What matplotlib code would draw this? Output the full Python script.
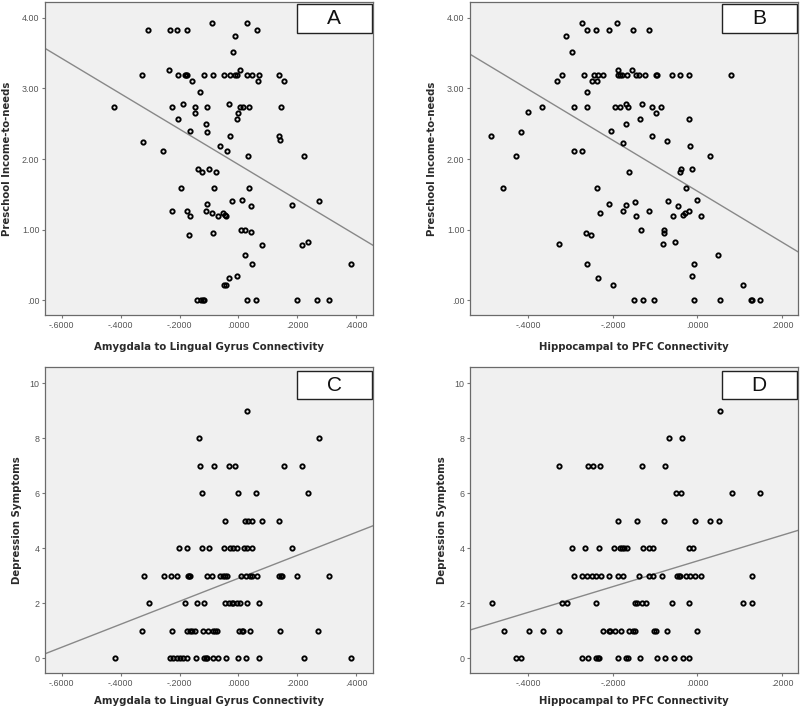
import numpy as np
import matplotlib
matplotlib.use('Agg')
import matplotlib.pyplot as plt
from matplotlib.patches import Rectangle
from matplotlib.ticker import FuncFormatter, MultipleLocator

# Panel A: amygdala-lingual connectivity vs preschool income-to-needs
a_x = [-0.306, -0.232, -0.210, -0.173, 0.062, -0.091, 0.028,
       -0.012, -0.018, -0.235, 0.005,
       -0.328, -0.204, -0.181, -0.178, -0.173, -0.117, -0.088, -0.049, -0.029, -0.012, -0.004, 0.028, 0.045, 0.069, 0.137,
       0.067, 0.155, -0.156, -0.130,
       -0.422, -0.227, -0.146, -0.106, 0.005, 0.014, 0.037, 0.144,
       -0.189, -0.031, -0.146, 0.000,
       -0.204, -0.006, -0.110, -0.106, -0.165,
       -0.029, 0.139, 0.141, -0.323, -0.063, -0.040, -0.255,
       0.031, 0.223, -0.136, -0.100, -0.125, -0.077,
       -0.195, -0.082, 0.037,
       0.273, -0.021, 0.013, 0.180, 0.041, -0.108,
       -0.224, -0.175, -0.110, -0.091, -0.051, -0.046, -0.042, -0.068, -0.166,
       -0.167, -0.085, 0.007, 0.022, 0.041,
       0.079, 0.214, 0.237,
       0.022, 0.047, 0.381,
       -0.031, -0.006, -0.049, -0.042,
       -0.141, -0.127, -0.121, -0.117, 0.028, 0.059, 0.199, 0.268, 0.308]
a_y = [3.83, 3.83, 3.83, 3.83, 3.83, 3.93, 3.93,
       3.74, 3.51, 3.26, 3.26,
       3.19, 3.19, 3.19, 3.19, 3.19, 3.19, 3.19, 3.19, 3.19, 3.19, 3.19, 3.19, 3.19, 3.19, 3.19,
       3.10, 3.10, 3.10, 2.95,
       2.73, 2.73, 2.73, 2.73, 2.73, 2.73, 2.73, 2.73,
       2.78, 2.78, 2.65, 2.65,
       2.56, 2.56, 2.50, 2.38, 2.39,
       2.32, 2.32, 2.27, 2.24, 2.18, 2.12, 2.12,
       2.04, 2.04, 1.86, 1.86, 1.82, 1.82,
       1.59, 1.59, 1.59,
       1.41, 1.40, 1.42, 1.35, 1.33, 1.36,
       1.27, 1.27, 1.27, 1.24, 1.24, 1.21, 1.19, 1.20, 1.19,
       0.92, 0.96, 0.99, 0.99, 0.97,
       0.79, 0.79, 0.83,
       0.64, 0.52, 0.52,
       0.32, 0.35, 0.22, 0.22,
       0.00, 0.00, 0.00, 0.00, 0.00, 0.00, 0.00, 0.00, 0.00]

# Panel B: hippocampal-PFC connectivity vs preschool income-to-needs
b_x = [-0.489, -0.459, -0.429, -0.418, -0.401, -0.367, -0.328, -0.331, -0.321, -0.311, -0.297, -0.291, -0.292, -0.273,
       -0.273, -0.262, -0.239, -0.209, -0.190, -0.152, -0.115,
       -0.268, -0.250, -0.244, -0.238, -0.234, -0.224,
       -0.262, -0.261,
       -0.264, -0.252, -0.262, -0.235, -0.199,
       -0.237, -0.230, -0.209, -0.205,
       -0.196, -0.183, -0.169, -0.165, -0.170, -0.177, -0.162,
       -0.189, -0.189, -0.183, -0.178, -0.167, -0.154, -0.146, -0.139, -0.123, -0.098, -0.095, -0.061, -0.042, -0.021, 0.080,
       -0.131, -0.136, -0.107, -0.086, -0.098, -0.107, -0.073,
       -0.021, -0.018, 0.029,
       -0.039, -0.013, -0.042, -0.028,
       -0.176, -0.168, -0.148, -0.146, -0.115, -0.134,
       -0.069, -0.047, -0.057, -0.035, -0.030, -0.020, -0.002, 0.009,
       -0.080, -0.079, -0.081, -0.052,
       0.049, -0.007, -0.012, 0.108,
       -0.150, -0.128, -0.102, -0.007, 0.054, 0.126, 0.130, 0.147]
b_y = [2.32, 1.59, 2.04, 2.38, 2.66, 2.73, 0.80, 3.10, 3.19, 3.74, 3.51, 2.73, 2.12, 2.12,
       3.93, 3.83, 3.83, 3.83, 3.93, 3.83, 3.83,
       3.19, 3.10, 3.19, 3.10, 3.19, 3.19,
       2.95, 2.73,
       0.96, 0.92, 0.52, 0.32, 0.22,
       1.59, 1.24, 1.36, 2.39,
       2.73, 2.73, 2.78, 2.73, 2.50, 2.23, 1.81,
       3.26, 3.19, 3.19, 3.19, 3.19, 3.26, 3.19, 3.19, 3.19, 3.19, 3.19, 3.19, 3.19, 3.19, 3.19,
       2.78, 2.56, 2.73, 2.73, 2.65, 2.32, 2.26,
       2.56, 2.18, 2.04,
       1.86, 1.86, 1.81, 1.59,
       1.27, 1.35, 1.39, 1.19, 1.27, 0.99,
       1.41, 1.33, 1.19, 1.21, 1.24, 1.27, 1.42, 1.19,
       0.99, 0.96, 0.80, 0.83,
       0.64, 0.52, 0.35, 0.22,
       0.00, 0.00, 0.00, 0.00, 0.00, 0.00, 0.00, 0.00]

# Panel C: amygdala-lingual connectivity vs depression symptoms
c_x = [0.030,
       -0.135, 0.273,
       -0.129, -0.083, -0.031, -0.011, 0.155, 0.216,
       -0.125, -0.003, 0.059, 0.237,
       -0.045, 0.023, 0.033, 0.047, 0.080, 0.138,
       -0.202, -0.173, -0.125, -0.100, -0.049, -0.029, -0.020, -0.004, 0.020, 0.029, 0.046, 0.181,
       -0.322, -0.252, -0.230, -0.210, -0.172, -0.168, -0.164, -0.108, -0.089, -0.063, -0.054, -0.046,
       -0.040, 0.010, 0.027, 0.039, 0.046, 0.064, 0.137, 0.143, 0.147, 0.200, 0.308,
       -0.303, -0.180, -0.140, -0.116, -0.045, -0.031, -0.023, -0.018, -0.006, 0.005, 0.030, 0.069,
       -0.327, -0.225, -0.173, -0.166, -0.158, -0.147, -0.119, -0.105, -0.085, -0.079, -0.074,
       0.003, 0.011, 0.016, 0.039, 0.141, 0.270,
       -0.420, -0.234, -0.223, -0.210, -0.198, -0.189, -0.173, -0.144, -0.117, -0.111,
       -0.106, -0.088, -0.068, -0.042, -0.001, 0.024, 0.069, 0.224, 0.382]
c_y = [9,
       8, 8,
       7, 7, 7, 7, 7, 7,
       6, 6, 6, 6,
       5, 5, 5, 5, 5, 5,
       4, 4, 4, 4, 4, 4, 4, 4, 4, 4, 4, 4,
       3, 3, 3, 3, 3, 3, 3, 3, 3, 3, 3, 3,
       3, 3, 3, 3, 3, 3, 3, 3, 3, 3, 3,
       2, 2, 2, 2, 2, 2, 2, 2, 2, 2, 2, 2,
       1, 1, 1, 1, 1, 1, 1, 1, 1, 1, 1,
       1, 1, 1, 1, 1, 1,
       0, 0, 0, 0, 0, 0, 0, 0, 0, 0,
       0, 0, 0, 0, 0, 0, 0, 0, 0]

# Panel D: hippocampal-PFC connectivity vs depression symptoms
d_x = [0.054,
       -0.067, -0.037,
       -0.327, -0.259, -0.248, -0.231, -0.130, -0.077,
       -0.051, -0.039, 0.082, 0.148,
       -0.187, -0.144, -0.080, -0.006, 0.030, 0.050,
       -0.297, -0.266, -0.233, -0.198, -0.183, -0.178, -0.174, -0.166, -0.128, -0.114, -0.106, -0.021, -0.011,
       -0.291, -0.272, -0.261, -0.250, -0.240, -0.229, -0.208, -0.188, -0.176, -0.138, -0.114,
       -0.105, -0.084, -0.048, -0.043, -0.040, -0.028, -0.017, -0.006, 0.009, 0.129,
       -0.487, -0.321, -0.309, -0.239, -0.148, -0.143, -0.131, -0.121, -0.061, -0.020, 0.108, 0.128,
       -0.457, -0.399, -0.366, -0.328, -0.223, -0.209, -0.206, -0.194,
       -0.181, -0.161, -0.152, -0.148, -0.102, -0.098, -0.072, -0.001,
       -0.429, -0.417, -0.272, -0.260, -0.240, -0.236, -0.233, -0.187,
       -0.170, -0.165, -0.135, -0.096, -0.077, -0.056, -0.034, -0.020]
d_y = [9,
       8, 8,
       7, 7, 7, 7, 7, 7,
       6, 6, 6, 6,
       5, 5, 5, 5, 5, 5,
       4, 4, 4, 4, 4, 4, 4, 4, 4, 4, 4, 4, 4,
       3, 3, 3, 3, 3, 3, 3, 3, 3, 3, 3,
       3, 3, 3, 3, 3, 3, 3, 3, 3, 3,
       2, 2, 2, 2, 2, 2, 2, 2, 2, 2, 2, 2,
       1, 1, 1, 1, 1, 1, 1, 1,
       1, 1, 1, 1, 1, 1, 1, 1,
       0, 0, 0, 0, 0, 0, 0, 0,
       0, 0, 0, 0, 0, 0, 0, 0]

amyg_label = 'Amygdala to Lingual Gyrus Connectivity'
hipp_label = 'Hippocampal to PFC Connectivity'
income_label = 'Preschool Income-to-needs'
dep_label = 'Depression Symptoms'

BG = '#f0f0f0'
TICK_COLOR = '#555555'
LABEL_COLOR = '#2a2a2a'


def strip_zero(fmt):
    def f(v, pos):
        if abs(v) < 1e-9:
            v = 0.0
        s = format(v, fmt)
        if s.startswith('0.'):
            s = s[1:]
        elif s.startswith('-0.'):
            s = '-' + s[2:]
        return s
    return FuncFormatter(f)


def panel(rect, x, y, xlim, xticks, ylim, yfmt, ystep, xlabel, ylabel, letter,
          ylab_x, xlab_y, box_y):
    ax = fig.add_axes(rect)
    ax.set_facecolor(BG)
    ax.plot(x, y, 'o', ms=3.1, mfc='none', mec='black', mew=1.35, zorder=3)

    # least squares fit line across the full x range
    slope, icpt = np.polyfit(x, y, 1)
    xs = np.array(xlim)
    ax.plot(xs, icpt + slope * xs, color='#888888', lw=1.0, zorder=2)

    ax.set_xlim(*xlim)
    ax.set_ylim(*ylim)
    ax.set_xticks(xticks)
    ax.xaxis.set_major_formatter(strip_zero('.4f'))
    ax.yaxis.set_major_locator(MultipleLocator(ystep))
    ax.yaxis.set_major_formatter(strip_zero(yfmt))
    ax.tick_params(labelsize=6.4, colors='#777777', labelcolor=TICK_COLOR,
                   length=2, width=0.8, pad=2, top=False, right=False)
    for lab in ax.get_xticklabels() + ax.get_yticklabels():
        lab.set_family('Liberation Sans')
    for s in ax.spines.values():
        s.set_color('#6a6a6a')
        s.set_linewidth(0.9)
    ax.set_xlabel(xlabel, fontsize=7.3, fontweight='bold', color=LABEL_COLOR)
    ax.set_ylabel(ylabel, fontsize=7.3, fontweight='bold', color=LABEL_COLOR)
    ax.yaxis.set_label_coords(ylab_x, 0.5)
    ax.xaxis.set_label_coords(0.5, xlab_y)

    # panel letter box in the upper right corner
    box = Rectangle((0.767, box_y), 0.229, 0.092, transform=ax.transAxes,
                    facecolor='white', edgecolor='#222222', lw=1.0, zorder=4)
    ax.add_patch(box)
    ax.text(0.8815, box_y + 0.046, letter, transform=ax.transAxes,
            ha='center', va='center', fontsize=15, family='Liberation Sans',
            color='#111111', zorder=5)
    return ax


fig = plt.figure(figsize=(8, 7.1), dpi=100)

amyg_lim = (-0.6565, 0.4565)
amyg_ticks = [-0.6, -0.4, -0.2, 0.0, 0.2, 0.4]
hipp_lim = (-0.538, 0.238)
hipp_ticks = [-0.4, -0.2, 0.0, 0.2]

panel([0.05625, 0.556, 0.41, 0.441], a_x, a_y, amyg_lim, amyg_ticks,
      (-0.21, 4.22), '.2f', 1.0, amyg_label, income_label, 'A', -0.10, -0.085, 0.903)
panel([0.5875, 0.556, 0.41, 0.441], b_x, b_y, hipp_lim, hipp_ticks,
      (-0.21, 4.22), '.2f', 1.0, hipp_label, income_label, 'B', -0.10, -0.085, 0.903)
panel([0.05625, 0.052, 0.41, 0.431], c_x, c_y, amyg_lim, amyg_ticks,
      (-0.545, 10.58), '.0f', 2, amyg_label, dep_label, 'C', -0.07, -0.075, 0.895)
panel([0.5875, 0.052, 0.41, 0.431], d_x, d_y, hipp_lim, hipp_ticks,
      (-0.545, 10.58), '.0f', 2, hipp_label, dep_label, 'D', -0.07, -0.075, 0.895)

fig.savefig('out.png', dpi=100, facecolor='white')
plt.close(fig)
